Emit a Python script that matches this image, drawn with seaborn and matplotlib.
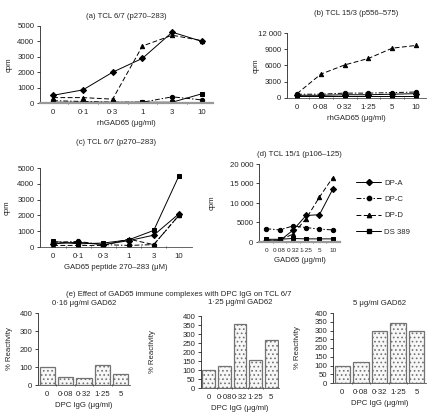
import matplotlib
matplotlib.use('Agg')
import matplotlib.pyplot as plt
from matplotlib.lines import Line2D
from matplotlib.ticker import FuncFormatter
import numpy as np
import pandas as pd
import seaborn as sns

sns.set_style("ticks")
plt.rcParams['font.family'] = ['Liberation Sans', 'DejaVu Sans']
plt.rcParams['hatch.linewidth'] = 0.7
FS = 5.6
W, H = 428, 415

series = ["DP-A", "DP-C", "DP-D", "DS 389"]
markers = {"DP-A": "D", "DP-C": "o", "DP-D": "^", "DS 389": "s"}
dashes = {"DP-A": "", "DP-C": (5, 2, 1.5, 2), "DP-D": (5, 2.5), "DS 389": ""}
MS = 3.1

# x categories
conc_short = ["0", "0·1", "0·3", "1", "3", "10"]
conc_long = ["0", "0·08", "0·32", "1·25", "5", "10"]
dpc_doses = ["0", "0·08", "0·32", "1·25", "5"]

# (a) TCL 6/7, rhGAD65
a_dpa = [500, 850, 2000, 2900, 4600, 4000]
a_dpc = [150, 100, 50, 50, 400, 200]
a_dpd = [350, 350, 250, 3700, 4400, 4050]
a_ds = [50, 50, 50, 50, 50, 600]

# (b) TCL 15/3, rhGAD65
b_dpa = [500, 500, 600, 600, 700, 800]
b_dpc = [700, 700, 900, 900, 1000, 1100]
b_dpd = [800, 4400, 6100, 7300, 9200, 9700]
b_ds = [400, 400, 400, 400, 400, 400]

# (c) TCL 6/7, peptide
c_dpa = [200, 300, 150, 400, 750, 2100]
c_dpc = [300, 350, 150, 100, 150, 2000]
c_dpd = [100, 100, 100, 500, 150, 2000]
c_ds = [350, 200, 250, 450, 1050, 4500]

# (d) TCL 15/1, GAD65
d_dpa = [300, 300, 3000, 6800, 7000, 13500]
d_dpc = [3400, 3100, 4100, 3700, 3300, 3100]
d_dpd = [500, 500, 2000, 6000, 11500, 16500]
d_ds = [700, 700, 900, 800, 800, 800]

# (e) % reactivity
e1_pct = [100, 45, 38, 110, 62]
e2_pct = [100, 120, 355, 155, 265]
e3_pct = [100, 118, 298, 345, 295]

fig = plt.figure(figsize=(W / 100, H / 100), dpi=100)


def px_axes(left, top, right, bottom):
    return fig.add_axes([left / W, 1 - bottom / H, (right - left) / W, (bottom - top) / H])


def fmt_cpm(v, pos):
    v = int(v)
    if v >= 10000:
        return f"{v:,}".replace(",", " ")
    return str(v)


def style_axis(ax, ylab_px, left_px, width_px, bottom_gray, xfs=FS):
    sns.despine(ax=ax)
    ax.spines['left'].set_linewidth(0.6)
    if bottom_gray:
        ax.spines['bottom'].set_color('0.6')
        ax.spines['bottom'].set_linewidth(1.6)
    else:
        ax.spines['bottom'].set_color('0.3')
        ax.spines['bottom'].set_linewidth(0.6)
    ax.tick_params(axis='y', labelsize=FS, length=2, width=0.6, pad=2)
    ax.tick_params(axis='x', which='major', labelsize=xfs, length=0, pad=4)
    ax.tick_params(axis='x', which='minor', length=2, width=0.5, direction='inout')
    ax.yaxis.set_label_coords((ylab_px - left_px) / width_px, 0.5)


def draw_lines(ax, xlabels, vals, ymax, ystep, title, xlabel, pad, xlim, ylab_px, box,
               bottom_gray, xfs=FS):
    n = len(xlabels)
    df = pd.DataFrame({
        "pos": np.tile(np.arange(n), len(series)),
        "cpm": np.concatenate([vals[s] for s in series]),
        "series": np.repeat(series, n),
    })
    sns.lineplot(data=df, x="pos", y="cpm", style="series", style_order=series,
                 markers=markers, dashes=dashes, color="black", linewidth=0.7,
                 markersize=MS, markeredgecolor="black", errorbar=None,
                 legend=False, ax=ax)
    ax.set_xlim(*xlim)
    ax.set_ylim(0, ymax)
    ax.set_yticks(np.arange(0, ymax + 1, ystep))
    ax.yaxis.set_major_formatter(FuncFormatter(fmt_cpm))
    ax.set_xticks(range(n))
    ax.set_xticklabels(xlabels)
    ax.set_xticks(np.arange(0.5, n - 1, 1.0), minor=True)
    ax.set_title(title, fontsize=FS, pad=pad)
    ax.set_xlabel(xlabel, fontsize=FS, labelpad=3)
    ax.set_ylabel("cpm", fontsize=FS)
    style_axis(ax, ylab_px, box[0], box[2] - box[0], bottom_gray, xfs)


def draw_bars(ax, vals, ystep, title, pad, ylab_px, box):
    df = pd.DataFrame({"dose": dpc_doses, "pct": vals})
    sns.barplot(data=df, x="dose", y="pct", order=dpc_doses, color="0.97",
                edgecolor="0.45", linewidth=0.9, hatch="....", width=0.82,
                saturation=1, ax=ax)
    ax.set_xlim(-0.5, 4.5)
    ax.set_ylim(0, 400)
    ax.set_yticks(np.arange(0, 401, ystep))
    ax.set_xticks(np.arange(0.5, 4, 1.0), minor=True)
    ax.set_title(title, fontsize=FS, pad=pad)
    ax.set_xlabel("DPC IgG (μg/ml)", fontsize=FS, labelpad=3)
    ax.set_ylabel("% Reactivity", fontsize=FS)
    style_axis(ax, ylab_px, box[0], box[2] - box[0], False)


box_a = (40, 26, 213, 103)
ax_a = px_axes(*box_a)
draw_lines(ax_a, conc_short, {"DP-A": a_dpa, "DP-C": a_dpc, "DP-D": a_dpd, "DS 389": a_ds},
           5000, 1000, "(a) TCL 6/7 (p270–283)", "rhGAD65 (μg/ml)", 6,
           (-0.44, 5.37), 13, box_a, True)

box_b = (287, 33, 426, 98)
ax_b = px_axes(*box_b)
draw_lines(ax_b, conc_long, {"DP-A": b_dpa, "DP-C": b_dpc, "DP-D": b_dpd, "DS 389": b_ds},
           12000, 3000, "(b) TCL 15/3 (p556–575)", "rhGAD65 (μg/ml)", 13,
           (-0.42, 5.42), 260, box_b, False)

box_c = (40, 168, 192, 247)
ax_c = px_axes(*box_c)
draw_lines(ax_c, conc_short, {"DP-A": c_dpa, "DP-C": c_dpc, "DP-D": c_dpd, "DS 389": c_ds},
           5000, 1000, "(c) TCL 6/7 (p270–283)", "GAD65 peptide 270–283 (μM)", 17,
           (-0.52, 5.52), 11, box_c, False)

box_d = (259, 164, 340, 242)
ax_d = px_axes(*box_d)
draw_lines(ax_d, conc_long, {"DP-A": d_dpa, "DP-C": d_dpc, "DP-D": d_dpd, "DS 389": d_ds},
           20000, 5000, "(d) TCL 15/1 (p106–125)", "GAD65 (μg/ml)", 6,
           (-0.55, 5.55), 216, box_d, True, xfs=4.6)

# legend for the line panels
handles = []
for s in series:
    h = Line2D([], [], color="black", lw=0.7, marker=markers[s], markersize=MS)
    if dashes[s]:
        h.set_dashes(dashes[s])
    handles.append(h)
fig.legend(handles, series, loc="upper left", bbox_to_anchor=(353 / W, 1 - 176 / H),
           frameon=False, fontsize=FS, handlelength=3.2, labelspacing=1.15,
           handletextpad=0.4, borderaxespad=0)

fig.text(66 / W, 1 - 295 / H, "(e) Effect of GAD65 immune complexes with DPC IgG on TCL 6/7",
         fontsize=FS, va="center", ha="left")

box_e1 = (38, 313, 130, 385)
ax_e1 = px_axes(*box_e1)
draw_bars(ax_e1, e1_pct, 100, "0·16 μg/ml GAD62", 6, 13, box_e1)

box_e2 = (201, 316, 279, 388)
ax_e2 = px_axes(*box_e2)
draw_bars(ax_e2, e2_pct, 50, "1·25 μg/ml GAD62", 9, 156, box_e2)

box_e3 = (333, 313, 426, 383)
ax_e3 = px_axes(*box_e3)
draw_bars(ax_e3, e3_pct, 50, "5 μg/ml GAD62", 6, 301, box_e3)

fig.savefig("out.png", dpi=100)
